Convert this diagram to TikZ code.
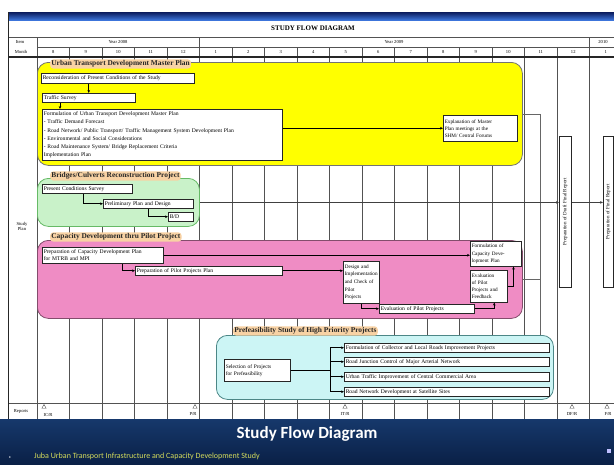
\documentclass[tikz,border=0pt]{standalone}
\usepackage{fontspec}
\setmainfont{Liberation Serif}
\newfontfamily\calib{Carlito}
\usetikzlibrary{arrows.meta,shadows,shapes.geometric}
\definecolor{navyA}{HTML}{16386B}
\definecolor{navyB}{HTML}{0A2046}
\definecolor{topd}{HTML}{0A1A5C}
\definecolor{topl}{HTML}{3C74DA}
\definecolor{ylw}{HTML}{FFFF00}
\definecolor{grn}{HTML}{C9F2C9}
\definecolor{pnk}{HTML}{EF8CC4}
\definecolor{tel}{HTML}{CCF5F5}
\definecolor{tabc}{HTML}{F8D2A4}
\definecolor{subt}{HTML}{D4DC5C}
\begin{document}
\begin{tikzpicture}[x=1pt,y=-1pt,
  grid/.style={draw=black!68, line width=0.75pt},
  hdr/.style={font=\fontsize{4.6}{5}\selectfont, inner sep=0.5pt},
  grp/.style={line width=0.8pt, rounded corners=11pt, anchor=north west, inner sep=0},
  tabt/.style={fill=tabc, font=\fontsize{7.4}{8}\selectfont\bfseries, text=black!85, inner sep=1.2pt, anchor=west, rounded corners=3pt},
  box/.style={draw=black!85, fill=white, line width=0.5pt, anchor=north west, inner sep=1pt, align=left,
     font=\fontsize{5.6}{7}\selectfont,
     drop shadow={shadow xshift=0.8pt, shadow yshift=-0.8pt, fill=black!45, opacity=0.8}},
  vbox/.style={draw=black!85, fill=white, line width=0.5pt, anchor=north west, inner sep=0},
  arr/.style={-{Stealth[length=3pt,width=2.6pt]}, line width=0.7pt, draw=black},
  ln/.style={line width=0.65pt, draw=black!60},
  tri/.style={regular polygon, regular polygon sides=3, draw=black!70, fill=white, minimum size=5pt, inner sep=0},
]
\useasboundingbox (0,0) rectangle (614,464);
\fill[white] (0,0) rectangle (614,464);

% top bar and title
\shade[top color=topd, bottom color=topl] (8,12) rectangle (614,20);
\node[font=\bfseries\fontsize{7}{8}\selectfont] (sfd) at (313,28) {STUDY FLOW DIAGRAM};

% table grid
\foreach \k in {0,...,17} \draw[grid] ({37+32.5*\k},47) -- ({37+32.5*\k},419);
\draw[grid] (37,37) -- (37,47);
\draw[grid] (199.5,37) -- (199.5,47);
\draw[grid] (589.5,37) -- (589.5,47);
\draw[grid] (8,37) -- (614,37);
\draw[grid] (37,47) -- (614,47);
\draw[draw=black!85, line width=1.1pt] (8,57) -- (614,57);
\draw[grid] (8,403) -- (614,403);
\draw[grid] (8,419) -- (614,419);
\draw[draw=black!85, line width=1.3pt] (8.6,12) -- (8.6,419);

\node[hdr] (item) at (20,42) {Item};
\node[hdr] (month) at (21,52) {Month};
\node[hdr] (y8) at (118,42) {Year 2008};
\node[hdr] (y9) at (394,42) {Year 2009};
\node[hdr] (y10) at (603,42) {2010};
\foreach \m [count=\i from 0] in {8,9,10,11,12,1,2,3,4,5,6,7,8,9,10,11,12,1}
  \node[hdr] (mo\i) at ({53.25+32.5*\i},52) {\m};
\node[hdr, align=center] (splan) at (22,226) {Study\\Plan};
\node[hdr] (rep) at (21,411) {Reports};

% report milestones
\node[tri] (rIC) at (44,407) {};
\node[tri] (rPR) at (195,407) {};
\node[tri] (rIT) at (345,407) {};
\node[tri] (rDF) at (572,407) {};
\node[tri] (rF) at (607,407) {};
\node[hdr] (lIC) at (48,414.5) {IC/R};
\node[hdr] (lPR) at (193,414.5) {P/R};
\node[hdr] (lIT) at (345,414.5) {IT/R};
\node[hdr] (lDF) at (572,414.5) {DF/R};
\node[hdr] (lF) at (608,414.5) {F/R};

% groups
\node[grp, fill=ylw, draw=black!55, minimum width=485pt, minimum height=103pt] (gU) at (37,62) {};
\node[grp, fill=grn, draw=black!45!green!60, minimum width=162pt, minimum height=48pt] (gG) at (37,178) {};
\node[grp, fill=pnk, draw=black!45!pnk, minimum width=485pt, minimum height=78pt] (gP) at (37,240) {};
\node[grp, fill=tel, draw=black!35!teal!70, minimum width=337pt, minimum height=64pt] (gT) at (216,335) {};

\node[tabt] (tU) at (50,64) {Urban Transport Development Master Plan};
\node[tabt] (tG) at (50,176) {Bridges/Culverts Reconstruction Project};
\node[tabt] (tP) at (50,237) {Capacity Development thru Pilot Project};
\node[tabt] (tT) at (233,331) {Prefeasibility Study of High Priority Projects};

% yellow group boxes
\node[box, minimum width=153pt, minimum height=10pt, text width=150pt] (b1) at (41,73) {Reconsideration of Present Conditions of the Study};
\node[box, minimum width=93pt, minimum height=9pt, text width=90pt] (b2) at (42,93) {Traffic Survey};
\node[box, minimum width=240pt, minimum height=51pt, text width=237pt, font=\fontsize{5.6}{8.2}\selectfont] (b3) at (42,109)
  {Formulation of Urban Transport Development Master Plan\\
   - Traffic Demand Forecast\\
   - Road Network/ Public Transport/ Traffic Management System Development Plan\\
   - Environmental and Social Considerations\\
   - Road Maintenance System/ Bridge Replacement Criteria\\
   Implementation Plan};
\node[box, minimum width=74pt, minimum height=26pt, text width=71pt, font=\fontsize{5.2}{7}\selectfont] (b4) at (443,115)
  {Explanation of Master\\Plan meetings at the\\SHM/ Central Forums};
\draw[arr] (b1.south -| b2.south) -- (b2.north);
\draw[arr] (b2.south -| 60,0) -- (b3.north -| 60,0);
\draw[arr, line width=1pt] (b3.east |- b4.west) -- (b4.west);

% green group boxes
\node[box, minimum width=90pt, minimum height=9pt, text width=87pt] (g1) at (42,184) {Present Conditions Survey};
\node[box, minimum width=90pt, minimum height=9pt, text width=87pt] (g2) at (103,199) {Preliminary Plan and Design};
\node[box, minimum width=25pt, minimum height=9pt, text width=22pt] (g3) at (168,212) {B/D};
\draw[arr] ([xshift=-4pt]g1.south) |- (g2.west);
\draw[arr] (g2.south) |- (g3.west);

% pink group boxes
\node[box, minimum width=121pt, minimum height=16pt, text width=118pt, font=\fontsize{5.6}{6.8}\selectfont] (p1) at (42,247)
  {Preparation of Capacity Development Plan\\for MTRB and MPI};
\node[box, minimum width=147pt, minimum height=9pt, text width=144pt] (p2) at (135,266) {Preparation of Pilot Projects Plan};
\node[box, minimum width=36pt, minimum height=42pt, text width=33pt, font=\fontsize{5.2}{7.6}\selectfont] (p3) at (343,261)
  {Design and\\Implementation\\and Check of\\Pilot\\Projects};
\node[box, minimum width=95pt, minimum height=9pt, text width=92pt] (p4) at (379,304) {Evaluation of Pilot Projects};
\node[box, minimum width=37pt, minimum height=32pt, text width=34pt, font=\fontsize{5.2}{7.2}\selectfont] (p5) at (470,270)
  {Evaluation\\of Pilot\\Projects and\\Feedback};
\node[box, minimum width=51pt, minimum height=25pt, text width=48pt, font=\fontsize{5.2}{7.2}\selectfont] (p6) at (470,241)
  {Formulation of\\Capacity Deve-\\lopment Plan};
\draw[arr, line width=1pt] (p1.east) -- (p1.east -| p6.west);
\draw[arr] ([xshift=20pt]p1.south) |- (p2.west);
\draw[arr, line width=1pt] (p2.east) -- (p2.east -| p3.west);
\draw[arr] (p3.south) |- (p4.west);
\draw[arr] (p4.east) -| ([xshift=5.5pt]p5.south);
\draw[arr] (p5.east) -| ([xshift=-8pt]p6.south east);

% teal group boxes
\node[box, minimum width=66pt, minimum height=22pt, text width=63pt, font=\fontsize{5.4}{7}\selectfont] (t0) at (224,359)
  {Selection of Projects\\for Prefeasibility};
\node[box, minimum width=205pt, minimum height=9pt, text width=202pt] (t1) at (344,343) {Formulation of Collector and Local Roads Improvement Projects};
\node[box, minimum width=205pt, minimum height=9pt, text width=202pt] (t2) at (344,357) {Road Junction Control of Major Arterial Network};
\node[box, minimum width=205pt, minimum height=9pt, text width=202pt] (t3) at (344,372) {Urban Traffic Improvement of Central Commercial Area};
\node[box, minimum width=205pt, minimum height=9pt, text width=202pt] (t4) at (344,387) {Road Network Development at Satellite Sites};
\foreach \t in {t1,t2,t3,t4}
  \draw[arr] (t0.east) -| ([xshift=-14pt]\t.west) -- (\t.west);

% final report boxes
\node[vbox, minimum width=12pt, minimum height=151pt] (v1) at (559,136) {};
\node[vbox, minimum width=10pt, minimum height=151pt] (v2) at (603,136) {};
\node[rotate=90, font=\fontsize{5}{6}\selectfont, inner sep=0] (v1t) at (v1.center) {Preparation of Draft Final Report};
\node[rotate=90, font=\fontsize{5}{6}\selectfont, inner sep=0] (v2t) at (v2.center) {Preparation of Final Report};

% bracket and main flow
\coordinate (brk) at (540,0);
\draw[ln] (gU.east) -| (brk |- gT.north);
\draw[ln] (gP.east) -- (gP.east -| brk);
\draw[arr, line width=0.65pt, draw=black!75] (gG.east) -- (gG.east -| v1.west);
\draw[arr, line width=0.65pt, draw=black!75] (gG.east -| v1.east) -- (gG.east -| v2.west);

% bottom band
\shade[top color=navyA, bottom color=navyB] (0,419.6) rectangle (614,464);
\node[font=\calib\bfseries\fontsize{17}{19}\selectfont, text=white] (ttl) at (307,434) {Study Flow Diagram};
\node[font=\calib\fontsize{8}{9}\selectfont, text=subt, anchor=west, inner sep=0] (sub) at (34,456) {Juba Urban Transport Infrastructure and Capacity Development Study};
\node[text=white, font=\fontsize{6}{7}\selectfont, inner sep=0] (bul) at (10,458) {•};
\node[fill=blue!25, minimum size=4pt, inner sep=0] (pg) at (609,451) {};
\end{tikzpicture}
\end{document}
